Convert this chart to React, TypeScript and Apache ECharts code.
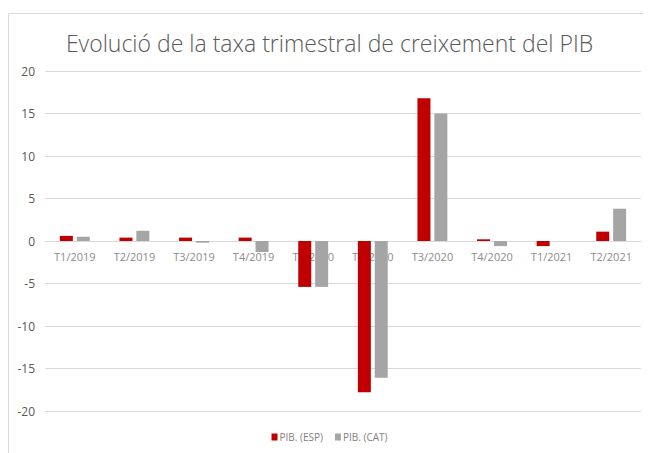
import React, { useEffect, useRef } from "react";
import * as echarts from "echarts";

const categories = ["T1/2019", "T2/2019", "T3/2019", "T4/2019", "T1/2020", "T2/2020", "T3/2020", "T4/2020", "T1/2021", "T2/2021"];
const pibEsp = [0.6, 0.4, 0.4, 0.4, -5.4, -17.8, 16.8, 0.2, -0.6, 1.1];
const pibCat = [0.5, 1.2, -0.2, -1.3, -5.4, -16.1, 15.0, -0.6, 0.0, 3.8];
const seriesNames = ["PIB. (ESP)", "PIB. (CAT)"];
const titleText = "Evolució de la taxa trimestral de creixement del PIB";

export default function App() {
  const ref = useRef<HTMLDivElement>(null);
  useEffect(() => {
    if (!ref.current) return;
    const chart = echarts.init(ref.current, null, { renderer: "svg" });
    const font = "'Open Sans', sans-serif";
    chart.setOption({
      animation: false,
      backgroundColor: "#ffffff",
      textStyle: { fontFamily: font },
      graphic: [
        {
          type: "rect",
          shape: { x: 0.5, y: 5.5, width: 660, height: 460 },
          style: { fill: "none", stroke: "#d9d9d9", lineWidth: 1 },
          silent: true,
          z: -1,
        },
      ],
      title: {
        text: titleText,
        left: "center",
        top: 18,
        textStyle: { fontFamily: font, fontSize: 23, fontWeight: 300, color: "#595959" },
      },
      legend: {
        bottom: 6,
        left: "center",
        itemWidth: 6,
        itemHeight: 7,
        itemGap: 12,
        icon: "rect",
        textStyle: { fontFamily: font, fontSize: 10, color: "#7f7f7f", padding: [0, 0, 0, -3] },
        data: seriesNames,
      },
      grid: { left: 37, right: 10, top: 63, bottom: 42, containLabel: false },
      xAxis: {
        type: "category",
        data: categories,
        position: "bottom",
        offset: -170,
        axisLine: { onZero: false, lineStyle: { color: "#d9d9d9", width: 1 } },
        axisTick: { show: false },
        axisLabel: { color: "#8c8c8c", fontSize: 11, margin: 10, fontFamily: font, interval: 0 },
        z: 0,
      },
      yAxis: {
        type: "value",
        min: -20,
        max: 20,
        interval: 5,
        axisLine: { show: false },
        axisTick: { show: false },
        axisLabel: { color: "#595959", fontSize: 12, margin: 10, fontFamily: font },
        splitLine: { lineStyle: { color: "#d9d9d9", width: 1 } },
      },
      series: [
        {
          name: seriesNames[0],
          type: "bar",
          data: pibEsp,
          barWidth: 13,
          barGap: "30%",
          itemStyle: { color: "#c00000" },
          z: 3,
        },
        {
          name: seriesNames[1],
          type: "bar",
          data: pibCat,
          barWidth: 13,
          itemStyle: { color: "#a5a5a5" },
          z: 3,
        },
      ],
    });
    return () => chart.dispose();
  }, []);
  return <div ref={ref} style={{ width: 643, height: 445 }} />;
}
